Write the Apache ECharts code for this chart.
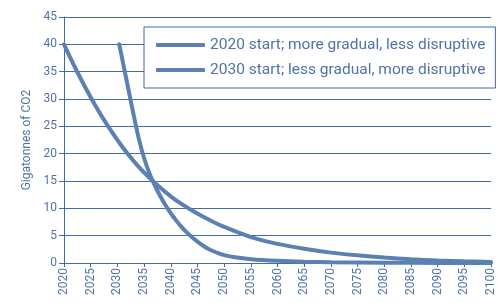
<!DOCTYPE html>
<html>
<head>
<meta charset="utf-8">
<script src="https://cdn.jsdelivr.net/npm/echarts@6/dist/echarts.min.js"></script>
<style>
  html, body { margin: 0; padding: 0; background: #fff; }
  #chart { width: 497px; height: 303px; }
</style>
</head>
<body>
<div id="chart"></div>
<script>
// 2020 start
const years2020 = [2020, 2022, 2024, 2026, 2028, 2030, 2032, 2034, 2036, 2038, 2040, 2042, 2044, 2046, 2048, 2050, 2055, 2060, 2065, 2070, 2075, 2080, 2085, 2090, 2095, 2100]
const values2020 = [40, 35.9, 32.1, 28.6, 25.4, 22.5, 19.9, 17.6, 15.6, 13.8, 12.2, 10.8, 9.6, 8.5, 7.5, 6.6, 4.75, 3.5, 2.6, 1.9, 1.4, 1.0, 0.7, 0.45, 0.3, 0.2]
// 2030 start
const years2030 = [2030.35, 2031, 2032, 2033, 2034, 2035, 2036, 2037, 2038, 2039, 2040, 2041, 2042, 2043, 2044, 2045, 2046, 2047, 2048, 2049, 2050, 2052, 2055, 2060, 2065, 2070, 2080, 2090, 2100]
const values2030 = [40, 36.9, 32.1, 27.3, 22.8, 19.2, 16.4, 14.2, 12.3, 10.6, 9.1, 7.8, 6.6, 5.6, 4.7, 3.9, 3.2, 2.6, 2.15, 1.75, 1.45, 1.05, 0.7, 0.4, 0.22, 0.12, 0.05, 0.02, 0.01]
const seriesNames = ['2020 start; more gradual, less disruptive', '2030 start; less gradual, more disruptive']

const blue = '#5b80b2'
const textBlue = '#4f73a8'
const gridBlue = '#4468a8'

const chart = echarts.init(document.getElementById('chart'))
const option = {
  animation: false,
  grid: { left: 64, right: 1, top: 17, bottom: 40 },
  legend: {
    orient: 'vertical',
    left: 144,
    top: 27,
    padding: [10, 10, 10, 12],
    itemGap: 9,
    itemWidth: 49,
    itemHeight: 4,
    icon: 'roundRect',
    backgroundColor: '#fff',
    borderColor: gridBlue,
    borderWidth: 1,
    borderRadius: 0,
    textStyle: { color: textBlue, fontSize: 15.5, fontFamily: 'Roboto' },
    data: seriesNames
  },
  xAxis: {
    type: 'value',
    min: 2020,
    max: 2100,
    interval: 5,
    axisLine: { lineStyle: { color: gridBlue, width: 1 } },
    axisTick: { show: true, length: 4, lineStyle: { color: gridBlue } },
    splitLine: { show: false },
    axisLabel: {
      rotate: 90,
      color: textBlue,
      fontSize: 12,
      fontFamily: 'Roboto',
      margin: 5,
      formatter: function (v) { return String(v) }
    }
  },
  yAxis: {
    type: 'value',
    min: 0,
    max: 45,
    interval: 5,
    name: 'Gigatonnes of CO2',
    nameLocation: 'middle',
    nameGap: 30,
    nameRotate: 90,
    nameTextStyle: { color: textBlue, fontSize: 12, fontFamily: 'Roboto' },
    axisLine: { show: true, lineStyle: { color: gridBlue, width: 1 } },
    axisTick: { show: true, length: 5, lineStyle: { color: gridBlue } },
    splitLine: { show: true, lineStyle: { color: gridBlue, width: 1 } },
    axisLabel: { color: textBlue, fontSize: 12, fontFamily: 'Roboto', margin: 7 }
  },
  series: [
    {
      name: seriesNames[0],
      type: 'line',
      smooth: 0.3,
      showSymbol: false,
      color: blue,
      lineStyle: { width: 4, color: blue, cap: 'round' },
      data: years2020.map((y, i) => [y, values2020[i]])
    },
    {
      name: seriesNames[1],
      type: 'line',
      smooth: 0.3,
      showSymbol: false,
      color: blue,
      lineStyle: { width: 4, color: blue, cap: 'round' },
      data: years2030.map((y, i) => [y, values2030[i]])
    }
  ]
}
chart.setOption(option)
window.addEventListener('resize', function () {
  chart.resize()
})
</script>
</body>
</html>
